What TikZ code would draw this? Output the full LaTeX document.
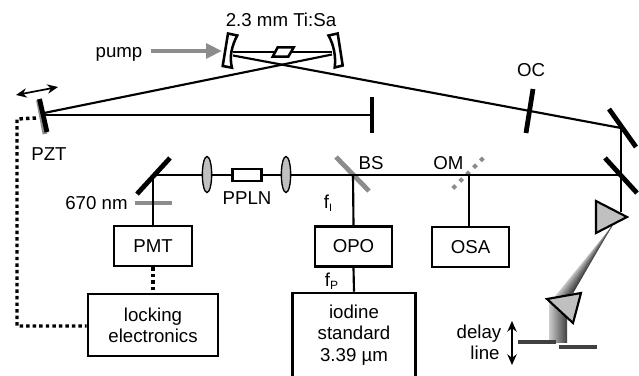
\documentclass[tikz,border=0pt]{standalone}
\usepackage{fontspec}
\setmainfont{Liberation Sans}
\usetikzlibrary{arrows.meta,shapes.geometric}
\definecolor{optgrey}{HTML}{C0C0C0}
\definecolor{midgrey}{HTML}{8C8C8C}
\definecolor{plate}{HTML}{404040}
\begin{document}
\begin{tikzpicture}[x=0.75pt,y=-0.75pt,
  every node/.style={font=\fontsize{14}{16}\selectfont},
  boxnode/.style={draw,line width=1.9pt,fill=white,inner sep=0pt,align=center},
  lbl/.style={anchor=base,inner sep=0pt},
  beam/.style={line width=1.6pt},
  optic/.style={line width=3.6pt},
  greyoptic/.style={line width=3.6pt,draw=midgrey},
  outline/.style={line width=1.9pt,fill=white,line join=miter},
  prism/.style={line width=1.6pt,fill=optgrey,line join=miter},
  lens/.style={draw,line width=1pt,fill=optgrey,ellipse,minimum width=7pt,minimum height=27pt,inner sep=0pt},
  signal/.style={line width=2.6pt,dash pattern=on 2.6pt off 2.3pt},
  movearrow/.style={line width=1.3pt,{Stealth[length=8pt,width=7pt]}-{Stealth[length=8pt,width=7pt]}},
  plateline/.style={line width=3.2pt,draw=plate}]
\useasboundingbox (0,0) rectangle (639,375);
\fill[white] (0,0) rectangle (639,375);

% coordinates
\coordinate (mL) at (233,52);
\coordinate (mR) at (332,52);
\coordinate (mLb) at (233,55.5);
\coordinate (mRb) at (332,54.5);
\coordinate (pzt) at (44,113);
\coordinate (pzt2) at (45,115);
\coordinate (end) at (372,115);
\coordinate (fold1) at (621,128);
\coordinate (fold2) at (621,175);
\coordinate (bs) at (353,175);
\coordinate (om) at (469,175);
\coordinate (m3) at (153,175);
\coordinate (prismtop) at (621,212);
\coordinate (dA) at (36,118);
\coordinate (dB) at (17,119);
\coordinate (dC) at (17,326);

% gradient beams
\foreach \i in {0,...,19}{
  \pgfmathsetmacro{\shadeval}{20+\i*3.0}
  \pgfmathsetmacro{\xa}{552+\i*1.05}
  \pgfmathsetmacro{\ya}{300-\i*0.35}
  \pgfmathsetmacro{\xb}{552+(\i+1.3)*1.05}
  \pgfmathsetmacro{\yb}{300-(\i+1.3)*0.35}
  \fill[black!\shadeval!white] (612,226) -- (\xa,\ya) -- (\xb,\yb) -- cycle;
}
\shade[left color=black!20,right color=plate]
  (549,300) rectangle (567,342);

% grey optics behind beams
\draw[greyoptic] (38.5,100) -- (45,134);
\draw[greyoptic] (135,203) -- (172,203);
\draw[greyoptic] (336,157) -- (369,191);
\foreach \i in {0,...,4}
  \fill[midgrey,rotate around={45:({454.3+\i*6.9},{187-\i*6.9})}]
    ({454.3+\i*6.9-2},{187-\i*6.9-2}) rectangle ({454.3+\i*6.9+2},{187-\i*6.9+2});

% beams
\draw[beam] (mL) -- (mR);
\draw[beam] (mLb) -- (fold1);
\draw[beam] (mRb) -- (pzt);
\draw[beam] (pzt2) -- (end);
\draw[beam] (fold1) -- (fold2) -- (m3);
\draw[beam] (fold2) -- (prismtop);

% cavity optics
\draw[optic] (39.5,99) -- (47,132);
\draw[optic] (372,97) -- (372,133);
\draw[optic] (533,89) -- (526,133);
\draw[optic] (609,109) -- (636,147);
\draw[optic] (605,158) -- (637,193);
\draw[optic] (170,158) -- (137,194);

% curved mirrors and crystal
\draw[outline] (228,33.5) -- (237.3,35.5)
  .. controls (232,45) and (229,57) .. (232,67.7) -- (222.7,66) -- cycle;
\draw[outline] (328.5,35.5) -- (337.7,33.5) -- (342.7,65.5) -- (334.7,67.5)
  .. controls (336,57) and (334,45) .. (328.5,35.5) -- cycle;
\draw[outline] (277.7,47.3) -- (293.7,47.3) -- (288.3,56.7) -- (272.7,56.7) -- cycle;

% pump arrow and motion arrow
\draw[midgrey,line width=3.4pt,-{Triangle[length=12pt,width=11pt]}] (151,51) -- (222,51);
\draw[movearrow] (16,95) -- (58,87);

% second harmonic arm
\node[lens] (lens1) at (207,174.5) {};
\node[lens] (lens2) at (286,174.5) {};
\node[boxnode,minimum width=22pt,minimum height=9pt] (ppln) at (247,175) {};

% boxes
\node[boxnode,minimum width=58.5pt,minimum height=30pt] (pmt) at (153,246) {PMT};
\node[boxnode,minimum width=58pt,minimum height=30pt] (opo) at (353.5,246.5) {OPO};
\node[boxnode,minimum width=58pt,minimum height=30pt] (osa) at (470.5,247) {OSA};
\node[boxnode,minimum width=97.5pt,minimum height=46.5pt] (lock) at (153,325) {locking\\electronics};
\node[boxnode,minimum width=92.5pt,minimum height=63pt] (iod) at (354,335) {iodine\\standard\\3.39 µm};

% connectors to boxes
\draw[beam] (m3) -- (pmt.north);
\draw[beam] (bs) -- (opo.north);
\draw[beam] (opo.south) -- (iod.north);
\draw[beam] (om) -- (osa.north -| om);
\draw[signal] (pmt.south) -- (lock.north);
\draw[signal] (dA) -- (dB) -- (dC) -- (lock.west |- dC);

% prisms
\draw[prism] (596,201) -- (627,217) -- (596,233) -- cycle;
\draw[prism] (547,299) -- (581,293) -- (573,323) -- cycle;

% delay line
\draw[plateline] (518,342) -- (556,342);
\draw[plateline] (559,347) -- (597,347);
\draw[movearrow] (512,321) -- (512,365);

% labels
\node[lbl] (tisa) at (281,26) {2.3 mm Ti:Sa};
\node[lbl] (pump) at (119,57) {pump};
\node[lbl] (pztl) at (49,160) {PZT};
\node[lbl] (oc) at (531,76) {OC};
\node[lbl] (nm) at (96.5,209) {670 nm};
\node[lbl] (pplnl) at (247,204) {PPLN};
\node[lbl] (bsl) at (371,169) {BS};
\node[lbl] (oml) at (448.5,169) {OM};
\node[lbl] (fi) at (328,208) {f\raisebox{-2.5pt}{\fontsize{8}{9}\selectfont I}};
\node[lbl] (fp) at (331.5,286) {f\raisebox{-2.5pt}{\fontsize{9}{9}\selectfont P}};
\node[lbl] (delay) at (479,338) {delay};
\node[lbl] (line) at (485,359) {line};
\end{tikzpicture}
\end{document}
